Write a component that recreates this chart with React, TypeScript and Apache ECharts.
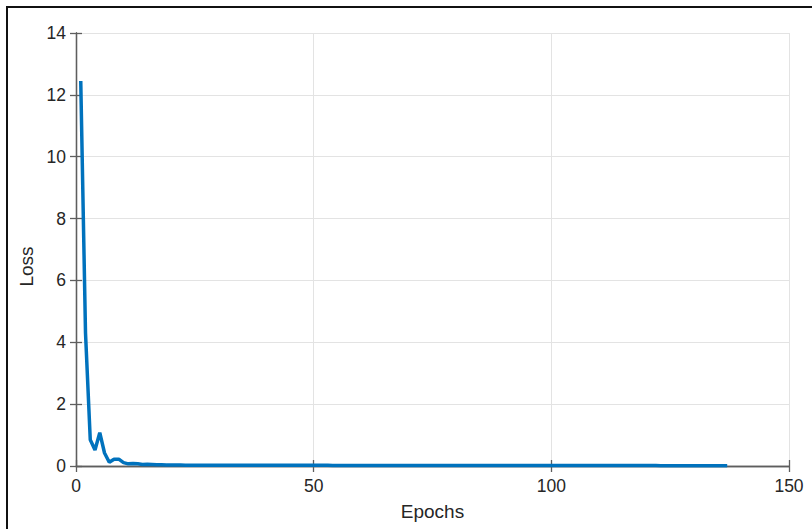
import React, { useEffect, useRef } from "react";
import * as echarts from "echarts";

const epochs: number[] = [];
const lossValues: number[] = [
  12.45, 4.3, 0.85, 0.52, 1.08, 0.42, 0.12, 0.22, 0.22, 0.11,
  0.07, 0.08, 0.07, 0.05, 0.06, 0.05, 0.04, 0.04, 0.035, 0.03,
  0.03, 0.03, 0.028, 0.028, 0.027, 0.027, 0.026, 0.026, 0.026, 0.025,
  0.025, 0.025, 0.025, 0.024, 0.024, 0.024, 0.024, 0.023, 0.023, 0.023,
  0.023, 0.023, 0.022, 0.022, 0.022, 0.022, 0.022, 0.021, 0.021, 0.021,
  0.021, 0.021, 0.021, 0.02, 0.02, 0.02, 0.02, 0.02, 0.02, 0.02,
  0.019, 0.019, 0.019, 0.019, 0.019, 0.019, 0.019, 0.018, 0.018, 0.018,
  0.018, 0.018, 0.018, 0.018, 0.018, 0.017, 0.017, 0.017, 0.017, 0.017,
  0.017, 0.017, 0.017, 0.016, 0.016, 0.016, 0.016, 0.016, 0.016, 0.016,
  0.016, 0.016, 0.015, 0.015, 0.015, 0.015, 0.015, 0.015, 0.015, 0.015,
  0.015, 0.014, 0.014, 0.014, 0.014, 0.014, 0.014, 0.014, 0.014, 0.014,
  0.014, 0.013, 0.013, 0.013, 0.013, 0.013, 0.013, 0.013, 0.013, 0.013,
  0.013, 0.013, 0.012, 0.012, 0.012, 0.012, 0.012, 0.012, 0.012, 0.012,
  0.012, 0.012, 0.012, 0.011, 0.011, 0.011, 0.011,
];
for (let i = 0; i < lossValues.length; i++) epochs.push(i + 1);

const xTicks = { min: 0, max: 150, interval: 50 };
const yTicks = { min: 0, max: 14, interval: 2 };

const FONT = "'Liberation Sans', Arial, Helvetica, sans-serif";
const AXIS_COLOR = "#5e5e5e";
const TEXT_COLOR = "#262626";
const GRID_COLOR = "#e3e3e3";

export default function App() {
  const ref = useRef<HTMLDivElement>(null);
  useEffect(() => {
    if (!ref.current) return;
    const chart = echarts.init(ref.current, undefined, { renderer: "svg" });
    const axisLine = { show: true, lineStyle: { color: AXIS_COLOR, width: 1.3 } };
    const axisTick = { show: true, inside: true, length: 6, lineStyle: { color: AXIS_COLOR, width: 1.3 } };
    chart.setOption({
      animation: false,
      backgroundColor: "#ffffff",
      grid: { left: 76, top: 33, right: 23, bottom: 63, containLabel: false },
      graphic: [
        {
          type: "rect",
          shape: { x: 7, y: 7, width: 900, height: 600 },
          style: { fill: "none", stroke: "#111", lineWidth: 2 },
          silent: true,
        },
      ],
      xAxis: [
        {
          type: "value",
          position: "bottom",
          min: xTicks.min,
          max: xTicks.max,
          interval: xTicks.interval,
          name: "Epochs",
          nameLocation: "middle",
          nameGap: 36,
          nameTextStyle: { color: TEXT_COLOR, fontSize: 19, fontFamily: FONT },
          axisLine,
          axisTick,
          axisLabel: { color: TEXT_COLOR, fontSize: 17.5, fontFamily: FONT, margin: 11 },
          splitLine: { show: true, lineStyle: { color: GRID_COLOR, width: 1 } },
        },
        {
          type: "value",
          position: "top",
          min: xTicks.min,
          max: xTicks.max,
          interval: xTicks.interval,
          axisLine,
          axisTick,
          axisLabel: { show: false },
          splitLine: { show: false },
        },
      ],
      yAxis: [
        {
          type: "value",
          position: "left",
          min: yTicks.min,
          max: yTicks.max,
          interval: yTicks.interval,
          name: "Loss",
          nameLocation: "middle",
          nameGap: 37,
          nameTextStyle: { color: TEXT_COLOR, fontSize: 19, fontFamily: FONT, padding: [0, 34, 0, 0] },
          axisLine,
          axisTick,
          axisLabel: { color: TEXT_COLOR, fontSize: 17.5, fontFamily: FONT, margin: 10 },
          splitLine: { show: true, lineStyle: { color: GRID_COLOR, width: 1 } },
        },
        {
          type: "value",
          position: "right",
          min: yTicks.min,
          max: yTicks.max,
          interval: yTicks.interval,
          axisLine,
          axisTick,
          axisLabel: { show: false },
          splitLine: { show: false },
        },
      ],
      series: [
        {
          type: "line",
          data: epochs.map((e, i) => [e, lossValues[i]]),
          xAxisIndex: 0,
          yAxisIndex: 0,
          showSymbol: false,
          symbol: "none",
          lineStyle: { color: "#0072BD", width: 3.5 },
          z: 3,
        },
      ],
    });
    return () => chart.dispose();
  }, []);
  return (
    <div
      ref={ref}
      style={{ position: "fixed", left: 0, top: 0, width: 812, height: 529 }}
    />
  );
}
